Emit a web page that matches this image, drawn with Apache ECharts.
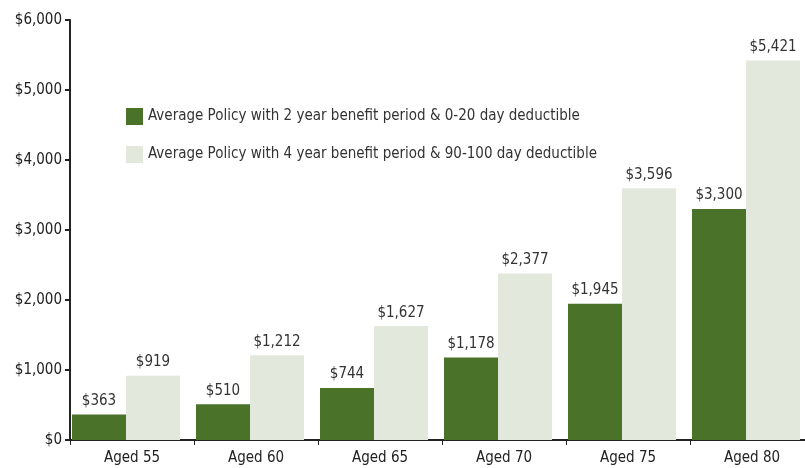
<!DOCTYPE html>
<html>
<head>
<meta charset="utf-8">
<script src="https://cdn.jsdelivr.net/npm/echarts@6/dist/echarts.min.js"></script>
<style>
  html, body { margin: 0; padding: 0; background: #fff; }
  #main { width: 805px; height: 468px; }
</style>
</head>
<body>
<div id="main"></div>
<script>
var categories = ['Aged 55', 'Aged 60', 'Aged 65', 'Aged 70', 'Aged 75', 'Aged 80'];
var policy2yr = [363, 510, 744, 1178, 1945, 3300];
var policy4yr = [919, 1212, 1627, 2377, 3596, 5421];
var name2yr = 'Average Policy with 2 year benefit period & 0-20 day deductible';
var name4yr = 'Average Policy with 4 year benefit period & 90-100 day deductible';

var font = '"Liberation Sans Narrow", "DejaVu Sans Condensed", sans-serif';

function money(v) {
    return '$' + String(v).replace(/\B(?=(\d{3})+(?!\d))/g, ',');
}

var chart = echarts.init(document.getElementById('main'));
var opt = {
    animation: false,
    textStyle: { fontFamily: font },
    grid: { left: 70, width: 744, top: 20, bottom: 28, outerBoundsMode: 'none', containLabel: false },
    legend: {
        orient: 'vertical',
        left: 126, top: 108, padding: 0,
        itemWidth: 17, itemHeight: 17, itemGap: 21,
        icon: 'rect',
        data: [name2yr, name4yr],
        textStyle: { fontFamily: font, fontSize: 15, color: '#333' }
    },
    xAxis: {
        type: 'category',
        data: categories,
        axisLine: { lineStyle: { color: '#222', width: 2 } },
        axisTick: { show: true, length: 5, lineStyle: { color: '#222', width: 1 } },
        axisLabel: { fontFamily: font, fontSize: 15, color: '#222', margin: 11 }
    },
    yAxis: {
        type: 'value',
        min: 0, max: 6000, interval: 1000,
        axisLine: { show: true, lineStyle: { color: '#222', width: 2 } },
        axisTick: { show: true, length: 5, lineStyle: { color: '#222', width: 2 } },
        splitLine: { show: false },
        axisLabel: { fontFamily: font, fontSize: 15, color: '#222', margin: 8, formatter: money }
    },
    series: [
        {
            name: name2yr, type: 'bar', data: policy2yr,
            barWidth: 54, barGap: 0,
            itemStyle: { color: '#4a7229' },
            label: { show: true, position: 'top', distance: 6, fontFamily: font, fontSize: 15, color: '#333',
                formatter: function (p) { return money(p.value); } }
        },
        {
            name: name4yr, type: 'bar', data: policy4yr,
            barWidth: 54, barGap: 0,
            itemStyle: { color: '#e3e8dd' },
            label: { show: true, position: 'top', distance: 6, fontFamily: font, fontSize: 15, color: '#333',
                formatter: function (p) { return money(p.value); } }
        },
        {
            // empty spacer so the bar pair sits left of centre, as in the original
            name: 'spacer', type: 'bar', data: categories.map(function () { return '-'; }),
            barWidth: 12, barGap: 0, silent: true
        }
    ]
};
chart.setOption(opt);
</script>
</body>
</html>
